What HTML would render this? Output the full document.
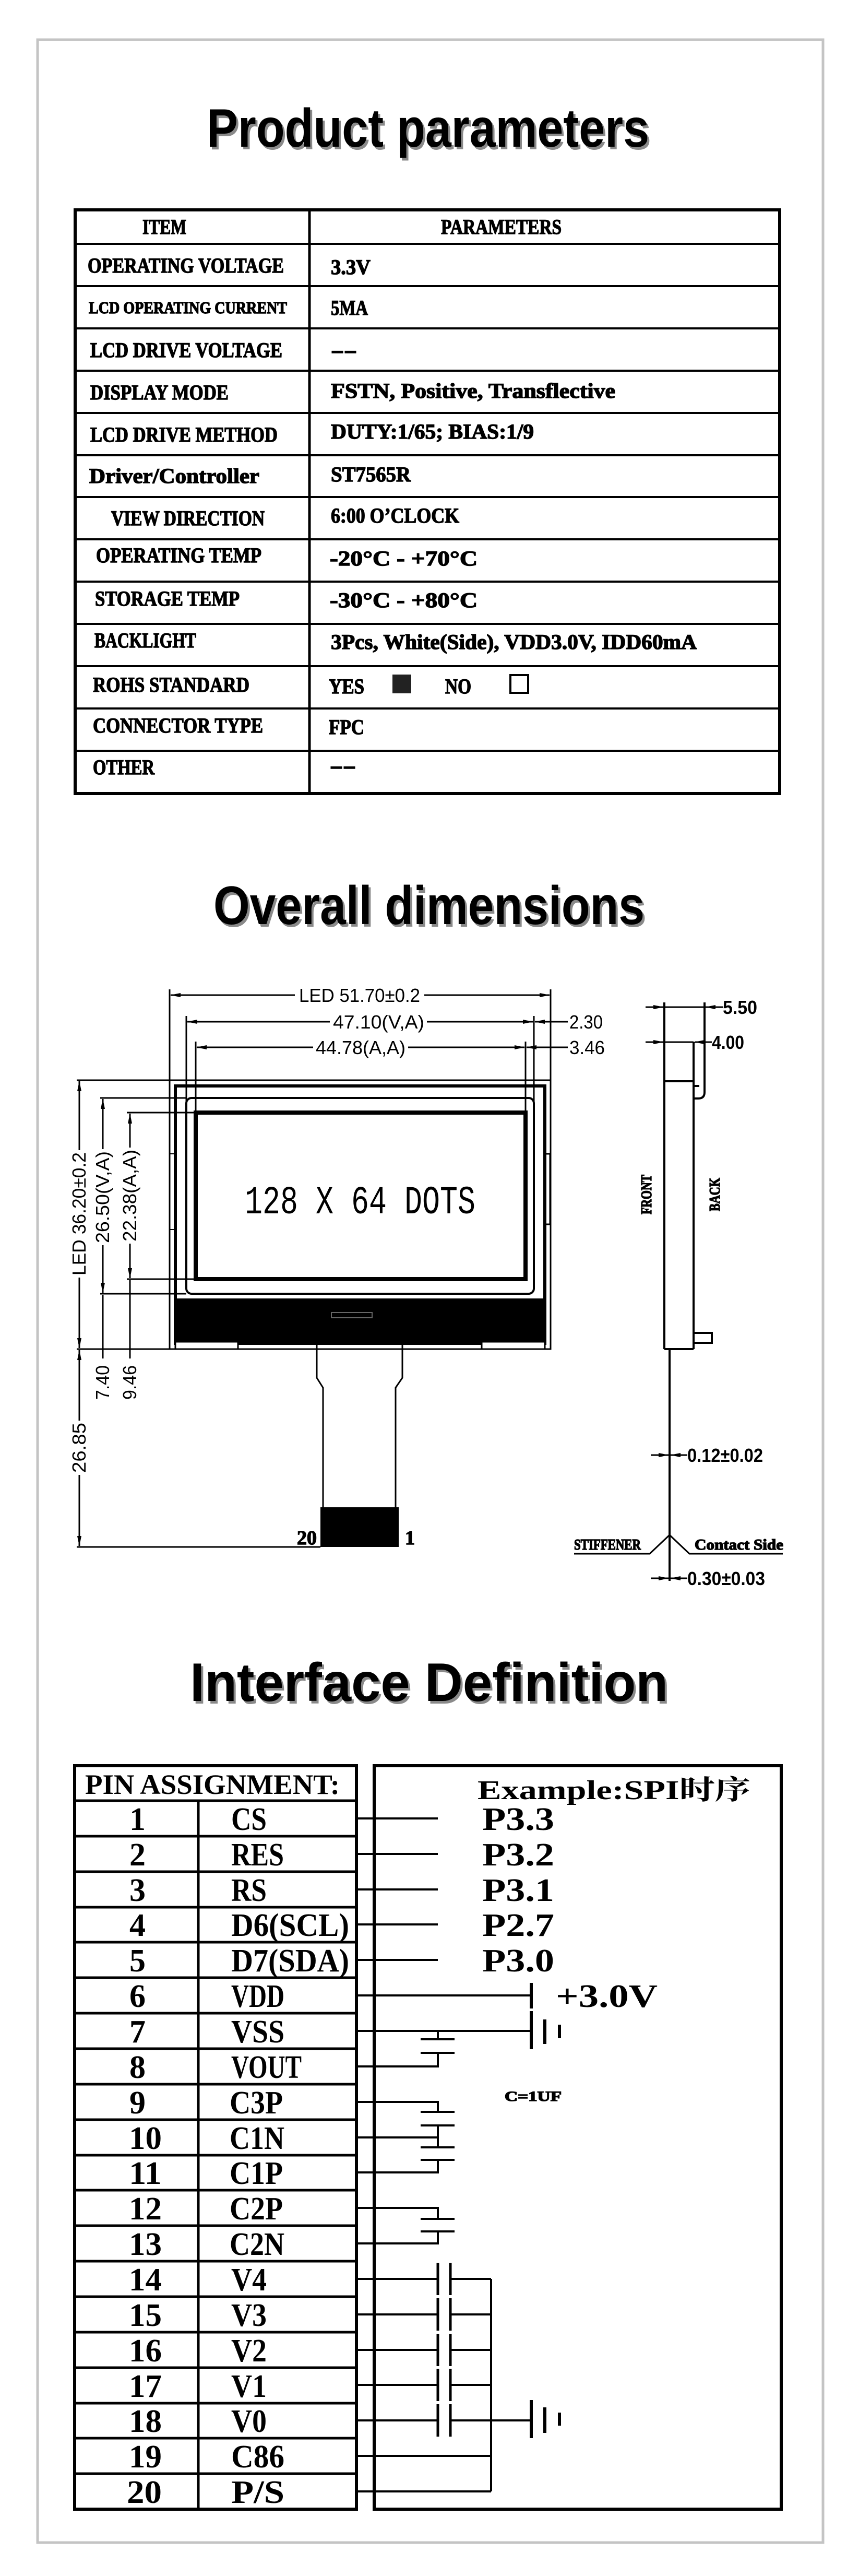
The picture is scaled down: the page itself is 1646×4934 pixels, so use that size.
<!DOCTYPE html>
<html><head><meta charset="utf-8"><style>
html,body{margin:0;padding:0;background:#fff}
svg{display:block}
.t{font-family:"Liberation Serif","Noto Serif CJK SC",serif;font-weight:bold;fill:#000;stroke:#000;stroke-width:1.4}
.d{font-family:"Liberation Sans",sans-serif;fill:#000;font-size:36px}
.h{font-family:"Liberation Sans",sans-serif;font-weight:bold;font-size:104px}
.p{font-family:"Liberation Serif","Noto Serif CJK SC",serif;font-weight:bold;fill:#000;font-size:62px}
</style></head><body>
<svg width="1646" height="4934" viewBox="0 0 1646 4934" xmlns="http://www.w3.org/2000/svg">
<defs>
<marker id="a" markerWidth="20" markerHeight="10" refX="19" refY="5" orient="auto-start-reverse" markerUnits="userSpaceOnUse"><path d="M0,1 L20,5 L0,9 Z" fill="#000"/></marker>
</defs>
<rect x="0" y="0" width="1646" height="4934" fill="#fff"/>
<rect x="72" y="76" width="1505" height="4794" fill="none" stroke="#c4c4c4" stroke-width="5"/>

<text class="h" x="400" y="286" textLength="848" lengthAdjust="spacingAndGlyphs" fill="#8a8a8a">Product parameters</text>
<text class="h" x="396" y="281" textLength="848" lengthAdjust="spacingAndGlyphs" fill="#000">Product parameters</text>
<text class="h" x="413" y="1775" textLength="826" lengthAdjust="spacingAndGlyphs" fill="#8a8a8a">Overall dimensions</text>
<text class="h" x="409" y="1770" textLength="826" lengthAdjust="spacingAndGlyphs" fill="#000">Overall dimensions</text>
<text class="h" x="368" y="3263" textLength="916" lengthAdjust="spacingAndGlyphs" fill="#8a8a8a">Interface Definition</text>
<text class="h" x="364" y="3258" textLength="916" lengthAdjust="spacingAndGlyphs" fill="#000">Interface Definition</text>

<g stroke="#000" fill="none">
<rect x="144" y="402" width="1350" height="1118" stroke-width="6"/>
<line x1="593" y1="402" x2="593" y2="1520" stroke-width="5"/>
<g stroke-width="4">
<line x1="144" y1="467" x2="1494" y2="467"/>
<line x1="144" y1="548" x2="1494" y2="548"/>
<line x1="144" y1="629" x2="1494" y2="629"/>
<line x1="144" y1="710" x2="1494" y2="710"/>
<line x1="144" y1="791" x2="1494" y2="791"/>
<line x1="144" y1="872" x2="1494" y2="872"/>
<line x1="144" y1="952" x2="1494" y2="952"/>
<line x1="144" y1="1033" x2="1494" y2="1033"/>
<line x1="144" y1="1114" x2="1494" y2="1114"/>
<line x1="144" y1="1195" x2="1494" y2="1195"/>
<line x1="144" y1="1276" x2="1494" y2="1276"/>
<line x1="144" y1="1357" x2="1494" y2="1357"/>
<line x1="144" y1="1438" x2="1494" y2="1438"/>
</g></g>
<g class="t" font-size="40">
<text x="273" y="448" textLength="84" lengthAdjust="spacingAndGlyphs">ITEM</text>
<text x="845" y="448" textLength="231" lengthAdjust="spacingAndGlyphs">PARAMETERS</text>
<text x="168" y="522" textLength="376" lengthAdjust="spacingAndGlyphs">OPERATING VOLTAGE</text>
<text x="634" y="525" textLength="76" lengthAdjust="spacingAndGlyphs">3.3V</text>
<text x="170" y="600" font-size="32" textLength="380" lengthAdjust="spacingAndGlyphs">LCD OPERATING CURRENT</text>
<text x="634" y="603" textLength="71" lengthAdjust="spacingAndGlyphs">5MA</text>
<text x="173" y="684" textLength="368" lengthAdjust="spacingAndGlyphs">LCD DRIVE VOLTAGE</text>
<text x="634" y="684" textLength="50" lengthAdjust="spacingAndGlyphs">--</text>
<text x="173" y="765" textLength="265" lengthAdjust="spacingAndGlyphs">DISPLAY MODE</text>
<text x="634" y="762" textLength="545" lengthAdjust="spacingAndGlyphs">FSTN, Positive, Transflective</text>
<text x="173" y="846" textLength="359" lengthAdjust="spacingAndGlyphs">LCD DRIVE METHOD</text>
<text x="634" y="840" textLength="389" lengthAdjust="spacingAndGlyphs">DUTY:1/65; BIAS:1/9</text>
<text x="171" y="925" textLength="326" lengthAdjust="spacingAndGlyphs">Driver/Controller</text>
<text x="634" y="922" textLength="153" lengthAdjust="spacingAndGlyphs">ST7565R</text>
<text x="213" y="1006" textLength="294" lengthAdjust="spacingAndGlyphs">VIEW DIRECTION</text>
<text x="634" y="1001" textLength="246" lengthAdjust="spacingAndGlyphs">6:00 O’CLOCK</text>
<text x="184" y="1077" textLength="317" lengthAdjust="spacingAndGlyphs">OPERATING TEMP</text>
<text x="632" y="1083" textLength="283" lengthAdjust="spacingAndGlyphs">-20°C - +70°C</text>
<text x="182" y="1160" textLength="277" lengthAdjust="spacingAndGlyphs">STORAGE TEMP</text>
<text x="632" y="1163" textLength="283" lengthAdjust="spacingAndGlyphs">-30°C - +80°C</text>
<text x="181" y="1240" textLength="195" lengthAdjust="spacingAndGlyphs">BACKLIGHT</text>
<text x="634" y="1243" textLength="701" lengthAdjust="spacingAndGlyphs">3Pcs, White(Side), VDD3.0V, IDD60mA</text>
<text x="178" y="1325" textLength="300" lengthAdjust="spacingAndGlyphs">ROHS STANDARD</text>
<text x="630" y="1328" textLength="68" lengthAdjust="spacingAndGlyphs">YES</text>
<text x="853" y="1328" textLength="50" lengthAdjust="spacingAndGlyphs">NO</text>
<text x="178" y="1403" textLength="326" lengthAdjust="spacingAndGlyphs">CONNECTOR TYPE</text>
<text x="630" y="1406" textLength="68" lengthAdjust="spacingAndGlyphs">FPC</text>
<text x="178" y="1483" textLength="118" lengthAdjust="spacingAndGlyphs">OTHER</text>
<text x="632" y="1480" textLength="50" lengthAdjust="spacingAndGlyphs">--</text>
</g>
<rect x="752" y="1292" width="36" height="36" fill="#222"/>
<rect x="978" y="1293" width="34" height="34" fill="none" stroke="#000" stroke-width="4"/>

<g stroke="#000" fill="none" stroke-width="3">
<line x1="325" y1="1895" x2="325" y2="2584"/>
<line x1="1055" y1="1895" x2="1055" y2="2584"/>
<line x1="357" y1="1946" x2="357" y2="2110"/>
<line x1="1023" y1="1946" x2="1023" y2="2110"/>
<line x1="375" y1="1995" x2="375" y2="2140"/>
<line x1="1007" y1="1995" x2="1007" y2="2140"/>
<line x1="327" y1="1906" x2="1053" y2="1906" marker-start="url(#a)" marker-end="url(#a)"/>
<line x1="359" y1="1957" x2="1021" y2="1957" marker-start="url(#a)" marker-end="url(#a)"/>
<line x1="377" y1="2006" x2="1005" y2="2006" marker-start="url(#a)" marker-end="url(#a)"/>
<line x1="1088" y1="1957" x2="1025" y2="1957" marker-end="url(#a)"/>
<line x1="1088" y1="2006" x2="1009" y2="2006" marker-end="url(#a)"/>
<rect x="325" y="2069" width="730" height="515"/>
<rect x="336" y="2080" width="708" height="493" stroke-width="6"/>
<rect x="357" y="2103" width="666" height="375" rx="10" stroke-width="4"/>
<rect x="375" y="2131" width="632" height="319" stroke-width="8"/>
<rect x="1044" y="2210" width="10" height="135" stroke-width="3"/>
<rect x="325" y="2210" width="11" height="145" stroke-width="2"/>
</g>
<rect x="336" y="2487" width="708" height="86" fill="#000"/>
<rect x="635" y="2514" width="78" height="10" fill="none" stroke="#666" stroke-width="2"/>
<rect x="336" y="2570" width="120" height="14" fill="#fff" stroke="#000" stroke-width="3"/>
<rect x="923" y="2570" width="121" height="14" fill="#fff" stroke="#000" stroke-width="3"/>
<path d="M607,2573 L607,2639 L619,2658 L619,2963 M771,2573 L771,2639 L758,2658 L758,2963" stroke="#000" stroke-width="3" fill="none"/>
<rect x="614" y="2887" width="150" height="76" fill="#000"/>
<text class="t" x="569" y="2958" font-size="38" textLength="38" lengthAdjust="spacingAndGlyphs">20</text>
<text class="t" x="776" y="2958" font-size="38">1</text>
<g stroke="#000" stroke-width="3" fill="none">
<line x1="147" y1="2069" x2="325" y2="2069"/>
<line x1="147" y1="2584" x2="325" y2="2584"/>
<line x1="147" y1="2963" x2="614" y2="2963"/>
<line x1="152" y1="2071" x2="152" y2="2582" marker-start="url(#a)" marker-end="url(#a)"/>
<line x1="152" y1="2586" x2="152" y2="2961" marker-start="url(#a)" marker-end="url(#a)"/>
<line x1="192" y1="2103" x2="357" y2="2103"/>
<line x1="192" y1="2478" x2="357" y2="2478"/>
<line x1="197" y1="2105" x2="197" y2="2476" marker-start="url(#a)" marker-end="url(#a)"/>
<line x1="197" y1="2480" x2="197" y2="2602"/>
<line x1="243" y1="2131" x2="375" y2="2131"/>
<line x1="243" y1="2450" x2="375" y2="2450"/>
<line x1="249" y1="2133" x2="249" y2="2448" marker-start="url(#a)" marker-end="url(#a)"/>
<line x1="249" y1="2452" x2="249" y2="2602"/>
</g>
<g class="d">
<rect x="565" y="1888" width="248" height="36" fill="#fff"/>
<text x="573" y="1919" textLength="232" lengthAdjust="spacingAndGlyphs">LED 51.70±0.2</text>
<rect x="632" y="1940" width="186" height="34" fill="#fff"/>
<text x="638" y="1970" textLength="175" lengthAdjust="spacingAndGlyphs">47.10(V,A)</text>
<rect x="600" y="1990" width="182" height="34" fill="#fff"/>
<text x="605" y="2019" textLength="172" lengthAdjust="spacingAndGlyphs">44.78(A,A)</text>
<text x="1091" y="1970" textLength="64" lengthAdjust="spacingAndGlyphs">2.30</text>
<text x="1091" y="2019" textLength="68" lengthAdjust="spacingAndGlyphs">3.46</text>
<g transform="translate(164,2325) rotate(-90)"><rect x="-122" y="-30" width="244" height="36" fill="#fff"/><text x="-118" y="0" textLength="236" lengthAdjust="spacingAndGlyphs">LED 36.20±0.2</text></g>
<g transform="translate(164,2773) rotate(-90)"><rect x="-52" y="-30" width="104" height="36" fill="#fff"/><text x="-48" y="0" textLength="96" lengthAdjust="spacingAndGlyphs">26.85</text></g>
<g transform="translate(209,2293) rotate(-90)"><rect x="-92" y="-30" width="184" height="36" fill="#fff"/><text x="-88" y="0" textLength="176" lengthAdjust="spacingAndGlyphs">26.50(V,A)</text></g>
<g transform="translate(261,2290) rotate(-90)"><rect x="-92" y="-30" width="184" height="36" fill="#fff"/><text x="-88" y="0" textLength="176" lengthAdjust="spacingAndGlyphs">22.38(A,A)</text></g>
<g transform="translate(209,2648) rotate(-90)"><rect x="-36" y="-30" width="72" height="36" fill="#fff"/><text x="-33" y="0" textLength="66" lengthAdjust="spacingAndGlyphs">7.40</text></g>
<g transform="translate(261,2648) rotate(-90)"><rect x="-36" y="-30" width="72" height="36" fill="#fff"/><text x="-33" y="0" textLength="66" lengthAdjust="spacingAndGlyphs">9.46</text></g>
</g>
<text x="469" y="2324" font-family="Liberation Mono, monospace" font-size="76" textLength="442" lengthAdjust="spacingAndGlyphs">128 X 64 DOTS</text>

<g stroke="#000" stroke-width="4" fill="none">
<line x1="1273" y1="1920" x2="1273" y2="2584"/>
<line x1="1329" y1="1996" x2="1329" y2="2584"/>
<line x1="1273" y1="2584" x2="1329" y2="2584"/>
<line x1="1273" y1="2071" x2="1329" y2="2071"/>
<path d="M1350,1920 L1350,2092 Q1350,2104 1338,2104 L1329,2104"/>
<path d="M1329,2080 L1340,2080"/>
<path d="M1329,2553 L1364,2553 L1364,2572 L1329,2572"/>
<line x1="1283" y1="2584" x2="1283" y2="3028"/>
</g>
<g stroke="#000" stroke-width="3" fill="none">
<line x1="1237" y1="1929" x2="1271" y2="1929" marker-end="url(#a)"/>
<line x1="1273" y1="1929" x2="1350" y2="1929"/>
<line x1="1385" y1="1929" x2="1352" y2="1929" marker-end="url(#a)"/>
<line x1="1237" y1="1996" x2="1271" y2="1996" marker-end="url(#a)"/>
<line x1="1273" y1="1996" x2="1329" y2="1996"/>
<line x1="1364" y1="1996" x2="1331" y2="1996" marker-end="url(#a)"/>
<line x1="1247" y1="2787" x2="1281" y2="2787" marker-end="url(#a)"/>
<line x1="1317" y1="2787" x2="1285" y2="2787" marker-end="url(#a)"/>
<line x1="1247" y1="3023" x2="1281" y2="3023" marker-end="url(#a)"/>
<line x1="1317" y1="3023" x2="1285" y2="3023" marker-end="url(#a)"/>
<path d="M1283,2940 L1245,2976 L1100,2976"/>
<path d="M1283,2940 L1321,2976 L1500,2976"/>
</g>
<g class="d" style="font-weight:bold">
<text x="1385" y="1942" textLength="66" lengthAdjust="spacingAndGlyphs">5.50</text>
<text x="1364" y="2009" textLength="62" lengthAdjust="spacingAndGlyphs">4.00</text>
<text x="1317" y="2800" textLength="145" lengthAdjust="spacingAndGlyphs">0.12±0.02</text>
<text x="1317" y="3036" textLength="149" lengthAdjust="spacingAndGlyphs">0.30±0.03</text>
</g>
<g class="t" font-size="28">
<text x="1100" y="2968" textLength="128" lengthAdjust="spacingAndGlyphs">STIFFENER</text>
<text x="1331" y="2968" textLength="170" lengthAdjust="spacingAndGlyphs">Contact Side</text>
<text transform="translate(1248,2288) rotate(-90)" x="-38" y="0" textLength="76" lengthAdjust="spacingAndGlyphs">FRONT</text>
<text transform="translate(1379,2288) rotate(-90)" x="-32" y="0" textLength="64" lengthAdjust="spacingAndGlyphs">BACK</text>
</g>

<g stroke="#000" fill="none" stroke-width="5">
<rect x="143" y="3382" width="540" height="1424" stroke-width="6"/>
<line x1="380" y1="3449" x2="380" y2="4806"/>
<rect x="717" y="3382" width="780" height="1424" stroke-width="6"/>
<line x1="143" y1="3449" x2="683" y2="3449"/>
<line x1="143" y1="3517" x2="683" y2="3517"/>
<line x1="143" y1="3585" x2="683" y2="3585"/>
<line x1="143" y1="3653" x2="683" y2="3653"/>
<line x1="143" y1="3720" x2="683" y2="3720"/>
<line x1="143" y1="3788" x2="683" y2="3788"/>
<line x1="143" y1="3856" x2="683" y2="3856"/>
<line x1="143" y1="3924" x2="683" y2="3924"/>
<line x1="143" y1="3992" x2="683" y2="3992"/>
<line x1="143" y1="4060" x2="683" y2="4060"/>
<line x1="143" y1="4128" x2="683" y2="4128"/>
<line x1="143" y1="4195" x2="683" y2="4195"/>
<line x1="143" y1="4263" x2="683" y2="4263"/>
<line x1="143" y1="4331" x2="683" y2="4331"/>
<line x1="143" y1="4399" x2="683" y2="4399"/>
<line x1="143" y1="4467" x2="683" y2="4467"/>
<line x1="143" y1="4535" x2="683" y2="4535"/>
<line x1="143" y1="4603" x2="683" y2="4603"/>
<line x1="143" y1="4670" x2="683" y2="4670"/>
<line x1="143" y1="4738" x2="683" y2="4738"/>
</g>
<g class="p">
<text x="163" y="3436" font-size="54" textLength="488" lengthAdjust="spacingAndGlyphs">PIN ASSIGNMENT:</text>
<text x="248" y="3505">1</text><text x="443" y="3505" textLength="68" lengthAdjust="spacingAndGlyphs">CS</text>
<text x="248" y="3573">2</text><text x="443" y="3573" textLength="101" lengthAdjust="spacingAndGlyphs">RES</text>
<text x="248" y="3641">3</text><text x="443" y="3641" textLength="68" lengthAdjust="spacingAndGlyphs">RS</text>
<text x="248" y="3708">4</text><text x="443" y="3708" textLength="226" lengthAdjust="spacingAndGlyphs">D6(SCL)</text>
<text x="248" y="3776">5</text><text x="443" y="3776" textLength="226" lengthAdjust="spacingAndGlyphs">D7(SDA)</text>
<text x="248" y="3844">6</text><text x="443" y="3844" textLength="102" lengthAdjust="spacingAndGlyphs">VDD</text>
<text x="248" y="3912">7</text><text x="443" y="3912" textLength="102" lengthAdjust="spacingAndGlyphs">VSS</text>
<text x="248" y="3980">8</text><text x="443" y="3980" textLength="135" lengthAdjust="spacingAndGlyphs">VOUT</text>
<text x="248" y="4048">9</text><text x="440" y="4048" textLength="102" lengthAdjust="spacingAndGlyphs">C3P</text>
<text x="247" y="4116" textLength="63" lengthAdjust="spacingAndGlyphs">10</text><text x="440" y="4116" textLength="105" lengthAdjust="spacingAndGlyphs">C1N</text>
<text x="247" y="4183" textLength="63" lengthAdjust="spacingAndGlyphs">11</text><text x="440" y="4183" textLength="102" lengthAdjust="spacingAndGlyphs">C1P</text>
<text x="247" y="4251" textLength="63" lengthAdjust="spacingAndGlyphs">12</text><text x="440" y="4251" textLength="102" lengthAdjust="spacingAndGlyphs">C2P</text>
<text x="247" y="4319" textLength="63" lengthAdjust="spacingAndGlyphs">13</text><text x="440" y="4319" textLength="105" lengthAdjust="spacingAndGlyphs">C2N</text>
<text x="247" y="4387" textLength="63" lengthAdjust="spacingAndGlyphs">14</text><text x="443" y="4387" textLength="68" lengthAdjust="spacingAndGlyphs">V4</text>
<text x="247" y="4455" textLength="63" lengthAdjust="spacingAndGlyphs">15</text><text x="443" y="4455" textLength="68" lengthAdjust="spacingAndGlyphs">V3</text>
<text x="247" y="4523" textLength="63" lengthAdjust="spacingAndGlyphs">16</text><text x="443" y="4523" textLength="68" lengthAdjust="spacingAndGlyphs">V2</text>
<text x="247" y="4591" textLength="63" lengthAdjust="spacingAndGlyphs">17</text><text x="443" y="4591" textLength="68" lengthAdjust="spacingAndGlyphs">V1</text>
<text x="247" y="4658" textLength="63" lengthAdjust="spacingAndGlyphs">18</text><text x="443" y="4658" textLength="68" lengthAdjust="spacingAndGlyphs">V0</text>
<text x="247" y="4726" textLength="63" lengthAdjust="spacingAndGlyphs">19</text><text x="443" y="4726" textLength="102" lengthAdjust="spacingAndGlyphs">C86</text>
<text x="243" y="4794" textLength="67" lengthAdjust="spacingAndGlyphs">20</text><text x="443" y="4794" textLength="102" lengthAdjust="spacingAndGlyphs">P/S</text>
<text x="915" y="3446" font-size="52" textLength="523" lengthAdjust="spacingAndGlyphs">Example:SPI时序</text>
<text x="924" y="3505" textLength="138" lengthAdjust="spacingAndGlyphs">P3.3</text>
<text x="924" y="3573" textLength="138" lengthAdjust="spacingAndGlyphs">P3.2</text>
<text x="924" y="3641" textLength="138" lengthAdjust="spacingAndGlyphs">P3.1</text>
<text x="924" y="3708" textLength="138" lengthAdjust="spacingAndGlyphs">P2.7</text>
<text x="924" y="3776" textLength="138" lengthAdjust="spacingAndGlyphs">P3.0</text>
<text x="1065" y="3844" textLength="195" lengthAdjust="spacingAndGlyphs">+3.0V</text>
</g>
<text class="t" x="967" y="4024" font-size="26" textLength="109" lengthAdjust="spacingAndGlyphs">C=1UF</text>

<g stroke="#000" stroke-width="4" fill="none">
<line x1="684" y1="3483" x2="839" y2="3483"/>
<line x1="684" y1="3551" x2="839" y2="3551"/>
<line x1="684" y1="3619" x2="839" y2="3619"/>
<line x1="684" y1="3686" x2="839" y2="3686"/>
<line x1="684" y1="3754" x2="839" y2="3754"/>
<line x1="684" y1="3822" x2="1018" y2="3822"/>
<line x1="1018" y1="3798" x2="1018" y2="3847" stroke-width="6"/>
<line x1="684" y1="3890" x2="1018" y2="3890"/>
<line x1="1018" y1="3852" x2="1018" y2="3925" stroke-width="6"/>
<line x1="1044" y1="3868" x2="1044" y2="3915" stroke-width="6"/>
<line x1="1072" y1="3878" x2="1072" y2="3904" stroke-width="6"/>
<path d="M839,3890 L839,3906 M806,3906 L871,3906 M806,3932 L871,3932 M839,3932 L839,3958 L684,3958"/>
<path d="M684,4026 L839,4026 L839,4045 M806,4045 L871,4045 M806,4071 L871,4071 M839,4071 L839,4094 L684,4094 M839,4094 L839,4113 M806,4113 L871,4113 M806,4137 L871,4137 M839,4137 L839,4161 L684,4161"/>
<path d="M684,4229 L839,4229 L839,4250 M806,4250 L871,4250 M806,4274 L871,4274 M839,4274 L839,4297 L684,4297"/>
<path d="M684,4365 L839,4365 M863,4365 L941,4365 M684,4433 L839,4433 M863,4433 L941,4433 M684,4501 L839,4501 M863,4501 L941,4501 M684,4568 L839,4568 M863,4568 L941,4568 M684,4636 L839,4636 M863,4636 L1018,4636 M684,4704 L941,4704 M684,4772 L941,4772 M941,4365 L941,4772"/>
<path d="M839,4334 L839,4396 M863,4334 L863,4396 M839,4402 L839,4464 M863,4402 L863,4464 M839,4470 L839,4532 M863,4470 L863,4532 M839,4537 L839,4599 M863,4537 L863,4599 M839,4605 L839,4667 M863,4605 L863,4667" stroke-width="5"/>
<line x1="1018" y1="4597" x2="1018" y2="4670" stroke-width="6"/>
<line x1="1044" y1="4611" x2="1044" y2="4660" stroke-width="6"/>
<line x1="1072" y1="4621" x2="1072" y2="4646" stroke-width="6"/>
</g>
</svg>
</body></html>
